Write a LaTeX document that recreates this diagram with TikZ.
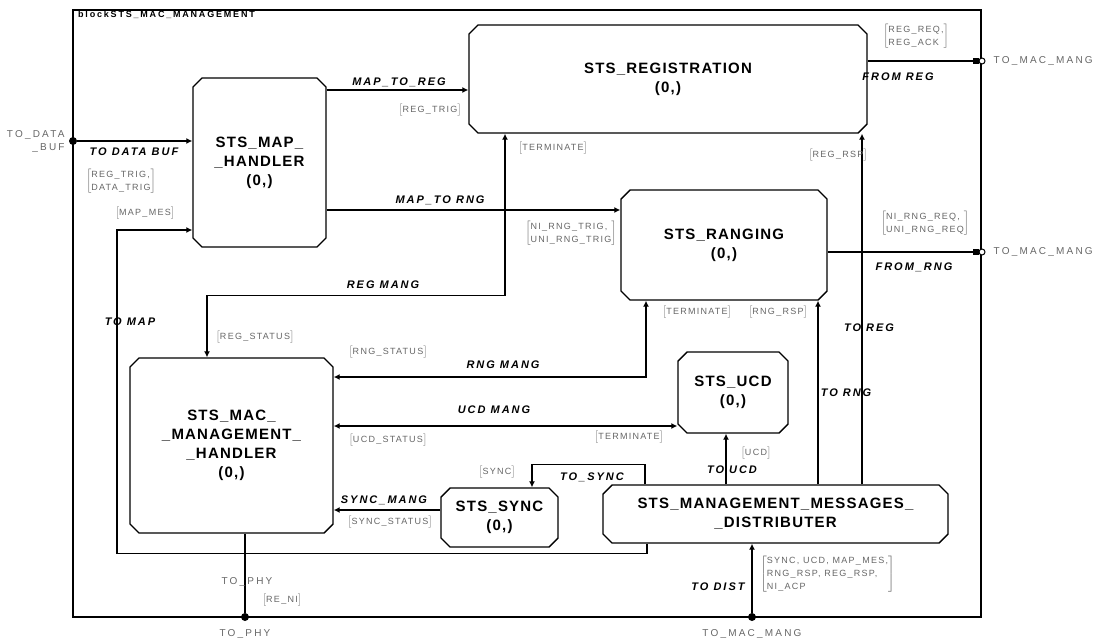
\documentclass[tikz,border=0pt]{standalone}
\usepackage{fontspec}
\setmainfont{Liberation Sans}
\newfontfamily\boxfont[LetterSpace=8]{Liberation Sans}
\newfontfamily\linkfont[LetterSpace=18]{Liberation Sans}
\newfontfamily\sigfont[LetterSpace=14]{Liberation Sans}
\newfontfamily\portfont[LetterSpace=22]{Liberation Sans}
\newfontfamily\titlefont[LetterSpace=20]{Liberation Sans}
\usetikzlibrary{arrows.meta,positioning,calc,shapes.misc}
\newcommand{\siglist}[1]{$\left[\begin{tabular}{@{}l@{}}#1\end{tabular}\right]$}
\tikzset{
  >={Latex[length=6pt,width=6pt]},
  frame/.style={draw, line width=1.2pt, inner sep=0pt, minimum width=908pt, minimum height=607pt},
  proc/.style={draw, chamfered rectangle, chamfered rectangle xsep=4.5pt, chamfered rectangle ysep=4.5pt,
    line width=1.4pt, inner sep=0pt, align=center, font=\boxfont\bfseries\fontsize{15}{19}\selectfont},
  link/.style={line width=1.3pt},
  lbl/.style={inner sep=0pt, font=\linkfont\bfseries\itshape\fontsize{11}{13}\selectfont},
  sig/.style={inner sep=0pt, text=black!60, font=\sigfont\fontsize{9}{13}\selectfont},
  port/.style={circle, fill, inner sep=0pt, minimum size=8pt},
  oport/.style={circle, draw, fill=white, line width=1pt, inner sep=0pt, minimum size=6pt},
  portlbl/.style={inner sep=0pt, text=black!60, font=\portfont\fontsize{10}{13}\selectfont},
  ttl/.style={inner sep=0pt, font=\titlefont\bfseries\fontsize{9}{10}\selectfont},
}

\begin{document}
\begin{tikzpicture}[x=1pt, y=-1pt]
  \useasboundingbox (0,0) rectangle (1111,640);
  \node[frame] (blk) at (527,313.5) {};
  \node[ttl, anchor=west] (title) at (78,15) {blockSTS\_MAC\_MANAGEMENT};

  % processes
  \node[proc, minimum width=133pt, minimum height=169pt] (map) at (259.5,162.5) {STS\_MAP\_\\\_HANDLER\\(0,)};
  \node[proc, minimum width=398pt, minimum height=108pt] (reg) at (668,79) {STS\_REGISTRATION\\(0,)};
  \node[proc, minimum width=206pt, minimum height=110pt] (rng) at (724,245) {STS\_RANGING\\(0,)};
  \node[proc, minimum width=203pt, minimum height=175pt] (mac) at (231.5,445.5) {STS\_MAC\_\\\_MANAGEMENT\_\\\_HANDLER\\(0,)};
  \node[proc, minimum width=110pt, minimum height=81pt] (ucd) at (733,392.5) {STS\_UCD\\(0,)};
  \node[proc, minimum width=117pt, minimum height=59pt] (sync) at (499.5,517.5) {STS\_SYNC\\(0,)};
  \node[proc, minimum width=345pt, minimum height=58pt] (dist) at (775.5,514) {STS\_MANAGEMENT\_MESSAGES\_\\\_DISTRIBUTER};

  % ports on the block
  \node[port] (pbuf) at (73,141) {};
  \node[oport] (preg) at (982,61) {};
  \node[oport] (prng) at (982,252) {};
  \node[port] (pphy) at (245,617) {};
  \node[port] (pdist) at (752,617) {};
  \node[portlbl, align=right, left=4pt of pbuf] (lbuf) {TO\_DATA\\\_BUF};
  \node[portlbl, right=8pt of preg] (lreg) {TO\_MAC\_MANG};
  \node[portlbl, right=8pt of prng] (lrng) {TO\_MAC\_MANG};
  \node[portlbl, below=8pt of pphy] (lphy) {TO\_PHY};
  \node[portlbl, below=8pt of pdist] (ldist) {TO\_MAC\_MANG};

  % channels
  \draw[link, ->] (pbuf) -- (pbuf -| map.west);
  \draw[link, ->] ([yshift=72.5pt]map.east) -- ([yshift=-11pt]reg.west);
  \draw[link, ->] ([yshift=-47.5pt]map.east) -- ([yshift=35pt]rng.west);
  \draw[link, <->] ([xshift=-163pt]reg.south) -- ++(0,162) -| ([xshift=-24.5pt]mac.north);
  \draw[link, <->] ([xshift=-78pt]rng.south) |- ([yshift=68.5pt]mac.east);
  \draw[link, <->] ([yshift=-33.5pt]ucd.west) -- ([yshift=19.5pt]mac.east);
  \draw[link, ->] ([yshift=7.5pt]sync.west) -- ([yshift=-64.5pt]mac.east);
  \draw[link, ->] ([xshift=-130.5pt]dist.north) -- ++(0,-20) -| ([xshift=32.5pt]sync.north);
  \draw[link, ->] ([xshift=-128.5pt]dist.south) -- ++(0,10) -- ++(-530,0) |- ([yshift=-67.5pt]map.west);
  \draw[link, ->] ([xshift=86.5pt]dist.north) -- ([xshift=194pt]reg.south);
  \draw[link, ->] ([xshift=42.5pt]dist.north) -- ([xshift=94pt]rng.south);
  \draw[link, ->] ([xshift=-49.5pt]dist.north) -- ([xshift=-7pt]ucd.south);
  \draw[link, ->] (pdist) -- (pdist |- dist.south);
  \draw[link] (mac.south -| pphy) -- (pphy);
  \draw[link, -{Square[length=6pt,width=6pt]}] ([yshift=18pt]reg.east) -- (preg);
  \draw[link, -{Square[length=6pt,width=6pt]}] ([yshift=-7pt]rng.east) -- (prng);

  % channel names
  \node[lbl] (ndbuf) at (134,152) {TO DATA BUF};
  \node[lbl] (nm2r) at (399,82) {MAP\_TO\_REG};
  \node[lbl] (nm2n) at (440,200) {MAP\_TO RNG};
  \node[lbl] (nfreg) at (898,77) {FROM REG};
  \node[lbl] (nfrng) at (914,267) {FROM\_RNG};
  \node[lbl] (nrmg) at (383,285) {REG MANG};
  \node[lbl] (nnmg) at (503,365) {RNG MANG};
  \node[lbl] (numg) at (494,410) {UCD MANG};
  \node[lbl] (nsmg) at (384,500) {SYNC\_MANG};
  \node[lbl] (ntmap) at (130,322) {TO MAP};
  \node[lbl] (ntreg) at (869,328) {TO REG};
  \node[lbl] (ntrng) at (846,393) {TO RNG};
  \node[lbl] (ntucd) at (732,470) {TO UCD};
  \node[lbl] (ntsync) at (592,477) {TO\_SYNC};
  \node[lbl] (ntdist) at (718,587) {TO DIST};
  \node[portlbl] (ntphy) at (247,582) {TO\_PHY};

  % signal lists
  \node[sig] (sbuf) at (121,181) {\siglist{REG\_TRIG,\\DATA\_TRIG}};
  \node[sig] (sm2r) at (430,110) {\siglist{REG\_TRIG}};
  \node[sig] (sm2n) at (571,233) {\siglist{NI\_RNG\_TRIG,\\UNI\_RNG\_TRIG}};
  \node[sig] (sfreg) at (916,36) {\siglist{REG\_REQ,\\REG\_ACK}};
  \node[sig] (sfrng) at (925,223) {\siglist{NI\_RNG\_REQ,\\UNI\_RNG\_REQ}};
  \node[sig] (sterm1) at (553,148) {\siglist{TERMINATE}};
  \node[sig] (sregrsp) at (838,155) {\siglist{REG\_RSP}};
  \node[sig] (smap) at (145,213) {\siglist{MAP\_MES}};
  \node[sig] (sregst) at (255,337) {\siglist{REG\_STATUS}};
  \node[sig] (srngst) at (388,352) {\siglist{RNG\_STATUS}};
  \node[sig] (sterm2) at (697,312) {\siglist{TERMINATE}};
  \node[sig] (srngrsp) at (778,312) {\siglist{RNG\_RSP}};
  \node[sig] (sucdst) at (388,440) {\siglist{UCD\_STATUS}};
  \node[sig] (sterm3) at (629,437) {\siglist{TERMINATE}};
  \node[sig] (sucd) at (756,453) {\siglist{UCD}};
  \node[sig] (ssync) at (497,472) {\siglist{SYNC}};
  \node[sig] (ssyncst) at (390,522) {\siglist{SYNC\_STATUS}};
  \node[sig, anchor=west] (sdist) at (760,574) {\siglist{SYNC, UCD, MAP\_MES,\\RNG\_RSP, REG\_RSP,\\NI\_ACP}};
  \node[sig] (sphy) at (282,600) {\siglist{RE\_NI}};
\end{tikzpicture}
\end{document}
